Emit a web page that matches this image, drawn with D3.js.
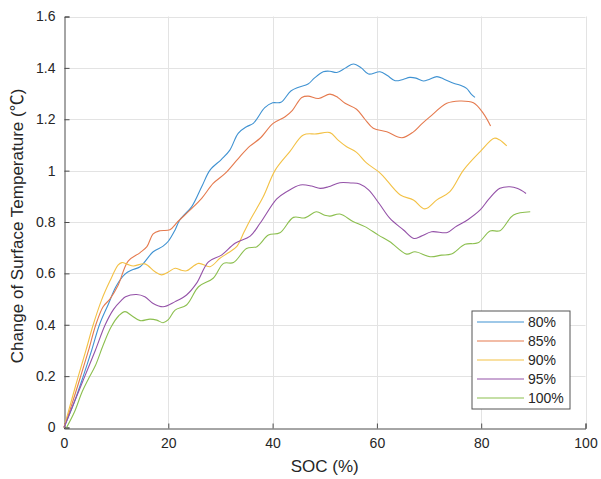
<!DOCTYPE html>
<html>
<head>
<meta charset="utf-8">
<script src="https://cdn.jsdelivr.net/npm/d3@7/dist/d3.min.js"></script>
<style>
  body { margin: 0; background: #fff; }
  svg { font-family: Arial, "Liberation Sans", Helvetica, sans-serif; }
</style>
</head>
<body>
<div id="chart"></div>
<script>
// curves, [SOC %, delta T]
const curve80 = [[0,0],[2,0.1],[3.7,0.2],[5.3,0.3],[6.8,0.4],[8.5,0.48],[10,0.55],[11.7,0.597],[13,0.613],[14.6,0.626],[17.1,0.684],[19,0.706],[20,0.725],[21.3,0.769],[22.2,0.808],[24.5,0.86],[26.4,0.937],[28,1.002],[30.2,1.044],[31.8,1.08],[33.4,1.145],[35,1.171],[36.3,1.184],[38.5,1.245],[40,1.264],[41.6,1.266],[43.5,1.31],[45,1.325],[46.8,1.337],[48,1.36],[49.7,1.385],[51,1.387],[52.3,1.382],[54,1.4],[55.5,1.415],[57,1.4],[58.4,1.376],[60.6,1.385],[62,1.37],[63.5,1.35],[65,1.355],[66.3,1.363],[67.5,1.36],[68.9,1.349],[70,1.355],[71.5,1.366],[73,1.355],[74.7,1.34],[76,1.332],[77.2,1.32],[78,1.3],[78.8,1.285]];
const curve85 = [[0,0],[1.5,0.09],[3.2,0.2],[4.7,0.3],[6.1,0.4],[7.5,0.47],[8.8,0.5],[10.4,0.555],[12.3,0.648],[14.6,0.681],[15.9,0.704],[17.1,0.754],[18.4,0.766],[20.3,0.77],[21.8,0.801],[24.2,0.847],[26.4,0.892],[28.6,0.95],[30.9,0.989],[33.7,1.054],[35.7,1.096],[37.6,1.126],[40.1,1.184],[42.4,1.21],[43.8,1.235],[45.6,1.285],[46.8,1.29],[48.8,1.281],[51,1.298],[52.5,1.285],[53.9,1.262],[56.1,1.239],[57.7,1.2],[59.3,1.165],[61.9,1.151],[64.8,1.128],[67,1.151],[68.5,1.18],[70.2,1.21],[73.4,1.262],[75.9,1.271],[78.5,1.264],[80.4,1.223],[81.8,1.174]];
const curve90 = [[0,0],[1.5,0.11],[2.75,0.2],[4.2,0.3],[5.6,0.4],[7.2,0.496],[8.8,0.57],[10.4,0.633],[11.1,0.642],[12.2,0.635],[13.3,0.629],[15.5,0.637],[17.4,0.607],[18.7,0.594],[20,0.605],[21.3,0.62],[22.5,0.612],[23.5,0.61],[25.8,0.639],[28,0.626],[29.9,0.659],[31.5,0.68],[33.1,0.704],[34.5,0.76],[35.7,0.808],[38.2,0.898],[40.5,1.002],[43.3,1.074],[45.9,1.139],[48.4,1.143],[51,1.148],[52.5,1.12],[54.2,1.093],[56.1,1.071],[58,1.03],[60.3,0.996],[61.2,0.979],[64.5,0.905],[67,0.886],[69.2,0.851],[71.5,0.886],[74,0.918],[76.6,1.002],[79.8,1.074],[82.5,1.126],[83.5,1.12],[84.9,1.096]];
const curve95 = [[0,0],[2,0.1],[4,0.2],[6,0.3],[7.9,0.4],[9.5,0.46],[11,0.495],[11.8,0.509],[13.9,0.518],[15.5,0.509],[17.1,0.483],[19,0.47],[21.3,0.49],[23.5,0.516],[25.4,0.561],[27.7,0.645],[30.2,0.671],[32.8,0.717],[35.7,0.745],[37.6,0.795],[40.8,0.89],[42.7,0.918],[45.3,0.944],[47.5,0.94],[49.1,0.931],[50.7,0.937],[52.9,0.953],[55,0.952],[56.7,0.948],[58.4,0.925],[60.5,0.87],[62.5,0.814],[65.1,0.769],[67.1,0.736],[68.5,0.745],[70.5,0.762],[73.5,0.759],[75,0.78],[77.5,0.81],[79.8,0.847],[81.5,0.89],[83.6,0.931],[85.5,0.937],[87,0.93],[88.6,0.911]];
const curve100 = [[0.5,0],[2,0.06],[3.5,0.14],[4.7,0.19],[6,0.24],[7.5,0.32],[9,0.39],[10.5,0.435],[11.7,0.451],[13,0.435],[14.6,0.416],[16.5,0.422],[17.8,0.418],[19,0.408],[20,0.42],[21.3,0.457],[23.5,0.477],[25.8,0.548],[28.6,0.581],[30.6,0.639],[32.5,0.642],[35,0.697],[37,0.704],[39.2,0.749],[41.4,0.758],[44,0.818],[46.2,0.816],[48.4,0.84],[50,0.826],[51,0.823],[52.9,0.831],[55.5,0.801],[57.7,0.782],[60.3,0.749],[62.5,0.723],[65.7,0.675],[67.3,0.684],[70.2,0.665],[72.4,0.671],[74.3,0.675],[76.9,0.713],[79.4,0.719],[81.7,0.765],[83.6,0.766],[86.2,0.827],[89.4,0.84]];

const legendLabels = ['80%', '85%', '90%', '95%', '100%'];
const xTicks = [0, 20, 40, 60, 80, 100];
const yTicks = [0, 0.2, 0.4, 0.6, 0.8, 1, 1.2, 1.4, 1.6];

const curves = [curve80, curve85, curve90, curve95, curve100];
const COLORS = ['#3f92d2', '#e57a4e', '#f3c145', '#9452a8', '#8cbf4f'];

const W = 601, H = 479;
const margin = { top: 16.5, right: 15.5, bottom: 51.5, left: 64 };

const svg = d3.select('#chart').append('svg')
  .attr('width', W)
  .attr('height', H);

const x = d3.scaleLinear().domain([0, 100]).range([margin.left, W - margin.right]);
const y = d3.scaleLinear().domain([0, 1.6]).range([H - margin.bottom, margin.top]);

// grid
const grid = svg.append('g').attr('stroke', '#e3e3e3').attr('stroke-width', 1);
grid.selectAll('.gx').data(xTicks.slice(1)).enter().append('line')
  .attr('x1', d => Math.round(x(d)) + 0.5).attr('x2', d => Math.round(x(d)) + 0.5)
  .attr('y1', y(0)).attr('y2', y(1.6));
grid.selectAll('.gy').data(yTicks.slice(1)).enter().append('line')
  .attr('y1', d => Math.round(y(d)) + 0.5).attr('y2', d => Math.round(y(d)) + 0.5)
  .attr('x1', x(0)).attr('x2', x(100));

// axes, ticks pointing inward like matlab
const xAxis = d3.axisBottom(x).tickValues(xTicks).tickSize(-5).tickPadding(10).tickFormat(d3.format('d'));
const yAxis = d3.axisLeft(y).tickValues(yTicks).tickSize(-5).tickPadding(9).tickFormat(d => d === 1 ? '1' : d3.format('.1f')(d).replace(/^0\.0$/, '0'));

const gx = svg.append('g')
  .attr('transform', `translate(0,${Math.round(y(0)) + 0.5})`)
  .call(xAxis);
const gy = svg.append('g')
  .attr('transform', `translate(${Math.round(x(0)) + 0.5},0)`)
  .call(yAxis);

[gx, gy].forEach(g => {
  g.select('.domain').attr('stroke', '#4d4d4d');
  g.selectAll('.tick line').attr('stroke', '#4d4d4d');
  g.selectAll('.tick text').attr('fill', '#262626').attr('font-size', 14)
    .attr('font-family', 'Arial, "Liberation Sans", sans-serif');
});

// lines
const line = d3.line()
  .x(d => x(d[0]))
  .y(d => y(d[1]))
  .curve(d3.curveCatmullRom.alpha(0.5));

svg.append('g').selectAll('path')
  .data(curves)
  .enter()
  .append('path')
  .attr('d', line)
  .attr('fill', 'none')
  .attr('stroke', (d, i) => COLORS[i])
  .attr('stroke-width', 1.1);

// axis labels
svg.append('text')
  .attr('x', (x(0) + x(100)) / 2)
  .attr('y', 472)
  .attr('text-anchor', 'middle')
  .attr('font-size', 17)
  .attr('fill', '#262626')
  .text('SOC (%)');

const yLabel = svg.append('text')
  .attr('transform', 'translate(23,226) rotate(-90)')
  .attr('text-anchor', 'middle')
  .attr('font-size', 17)
  .attr('fill', '#262626');
yLabel.append('tspan').text('Change of Surface Temperature (');
yLabel.append('tspan').attr('font-family', '"Noto Sans CJK SC", sans-serif').text('℃');
yLabel.append('tspan').text(')');

// legend
const legend = svg.append('g').attr('transform', 'translate(472,311)');
legend.append('rect')
  .attr('width', 98).attr('height', 98)
  .attr('fill', '#fff')
  .attr('stroke', '#555')
  .attr('stroke-width', 1);

const entries = legend.selectAll('.entry')
  .data(legendLabels)
  .enter()
  .append('g')
  .attr('transform', (d, i) => `translate(0,${11 + i * 19})`);

entries.append('line')
  .attr('x1', 5).attr('x2', 52)
  .attr('stroke', (d, i) => COLORS[i])
  .attr('stroke-width', 1.1);

entries.append('text')
  .attr('x', 56)
  .attr('y', 5)
  .attr('font-size', 14)
  .attr('fill', '#262626')
  .text(d => d);
</script>
</body>
</html>
